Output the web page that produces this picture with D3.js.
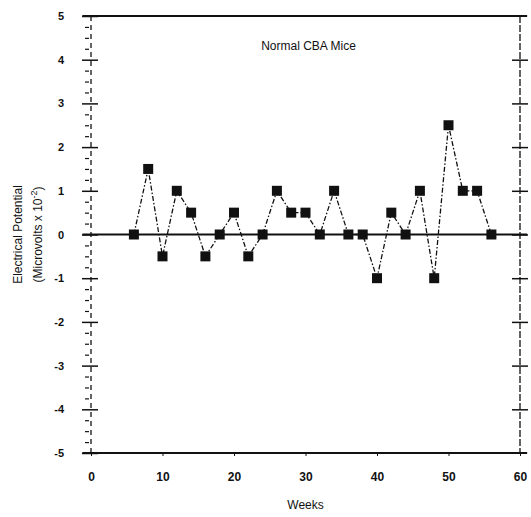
<!DOCTYPE html>
<html>
<head>
<meta charset="utf-8">
<script src="https://cdn.jsdelivr.net/npm/d3@7"></script>
<style>
  body { margin: 0; background: #fff; }
  text { font-family: "Liberation Sans", Arial, sans-serif; fill: #111; }
</style>
</head>
<body>
<div id="chart"></div>
<script>
var weeks = [6, 8, 10, 12, 14, 16, 18, 20, 22, 24, 26, 28, 30, 32, 34, 36, 38, 40, 42, 44, 46, 48, 50, 52, 54, 56];
var potential = [0, 1.5, -0.5, 1, 0.5, -0.5, 0, 0.5, -0.5, 0, 1, 0.5, 0.5, 0, 1, 0, 0, -1, 0.5, 0, 1, -1, 2.5, 1, 1, 0];
var xTicks = [0, 10, 20, 30, 40, 50, 60];
var yTicks = [5, 4, 3, 2, 1, 0, -1, -2, -3, -4, -5];
var yMinor = d3.range(-5, 5.01, 0.25).filter(function (v) { return Math.abs(v - Math.round(v)) > 0.01; });

var width = 531, height = 517;

var svg = d3.select('#chart').append('svg')
    .attr('width', width)
    .attr('height', height);

var xScale = d3.scaleLinear().domain([0, 60]).range([91, 520]);
var yScale = d3.scaleLinear().domain([-5, 5]).range([453, 16]);

var ink = '#111';

// frame lines: top, bottom and zero
[5, -5, 0].forEach(function (v) {
    svg.append('line')
        .attr('x1', xScale(-1.2)).attr('x2', xScale(61))
        .attr('y1', yScale(v)).attr('y2', yScale(v))
        .attr('stroke', ink)
        .attr('stroke-width', v == 0 ? 2 : 1.8);
});

// left axis, dashed spine
svg.append('line')
    .attr('x1', xScale(0)).attr('x2', xScale(0))
    .attr('y1', yScale(5)).attr('y2', yScale(-5))
    .attr('stroke', ink).attr('stroke-width', 1.3)
    .attr('stroke-dasharray', '5,4');

var yAxis = d3.axisLeft(yScale)
    .tickValues(yTicks)
    .tickSize(16)
    .tickPadding(18)
    .tickFormat(function (d) { return String(d); });

var yAxisG = svg.append('g')
    .attr('transform', 'translate(' + (xScale(0) + 7) + ',0)')
    .call(yAxis);
yAxisG.select('.domain').remove();
yAxisG.selectAll('line').attr('stroke', ink).attr('stroke-width', 1.5);
yAxisG.selectAll('text').attr('font-size', 11).attr('font-weight', 'bold');

// minor ticks on the left
var yMinorG = svg.append('g')
    .attr('transform', 'translate(' + (xScale(0) - 2) + ',0)')
    .call(d3.axisLeft(yScale).tickValues(yMinor).tickSize(4).tickFormat(''));
yMinorG.select('.domain').remove();
yMinorG.selectAll('line').attr('stroke', ink).attr('stroke-width', 1.2);

// right axis
svg.append('line')
    .attr('x1', xScale(60)).attr('x2', xScale(60))
    .attr('y1', yScale(5)).attr('y2', yScale(-5))
    .attr('stroke', ink).attr('stroke-width', 1.3)
    .attr('stroke-dasharray', '7,2');

var rAxisG = svg.append('g')
    .attr('transform', 'translate(' + (xScale(60) + 8) + ',0)')
    .call(d3.axisLeft(yScale).tickValues(yTicks.slice(1, -1)).tickSize(16).tickFormat(''));
rAxisG.select('.domain').remove();
rAxisG.selectAll('line').attr('stroke', ink).attr('stroke-width', 1.5);

// bottom axis
var xAxisG = svg.append('g')
    .attr('transform', 'translate(0,' + yScale(-5) + ')')
    .call(d3.axisBottom(xScale).tickValues(xTicks).tickSize(3).tickPadding(16));
xAxisG.select('.domain').remove();
xAxisG.selectAll('line').attr('stroke', ink).attr('stroke-width', 1);
xAxisG.selectAll('text').attr('font-size', 12).attr('font-weight', 'bold');

// series
var line = d3.line()
    .x(function (d, i) { return xScale(weeks[i]); })
    .y(function (d) { return yScale(d); });

svg.append('path')
    .attr('fill', 'none')
    .attr('stroke', ink)
    .attr('stroke-width', 1.3)
    .attr('stroke-dasharray', '5,2,1.5,2')
    .attr('d', line(potential));

svg.selectAll('.pt')
    .data(potential)
    .enter().append('rect')
    .attr('class', 'pt')
    .attr('x', function (d, i) { return xScale(weeks[i]) - 5; })
    .attr('y', function (d) { return yScale(d) - 5; })
    .attr('width', 10)
    .attr('height', 10)
    .attr('fill', ink);

// labels
svg.append('text')
    .attr('x', xScale(30) + 3)
    .attr('y', 50)
    .attr('text-anchor', 'middle')
    .attr('font-size', 12)
    .text('Normal CBA Mice');

svg.append('text')
    .attr('x', xScale(30))
    .attr('y', 509)
    .attr('text-anchor', 'middle')
    .attr('font-size', 12)
    .text('Weeks');

var yLab = svg.append('text')
    .attr('transform', 'translate(0,' + yScale(0) + ') rotate(-90)')
    .attr('text-anchor', 'middle')
    .attr('font-size', 12);
yLab.append('tspan').attr('x', 0).attr('y', 22).text('Electrical Potential');
yLab.append('tspan').attr('x', 0).attr('y', 42).text('(Microvolts x 10');
yLab.append('tspan').attr('dy', -5).attr('font-size', 9).text('-2');
yLab.append('tspan').attr('dy', 5).text(')');
</script>
</body>
</html>
